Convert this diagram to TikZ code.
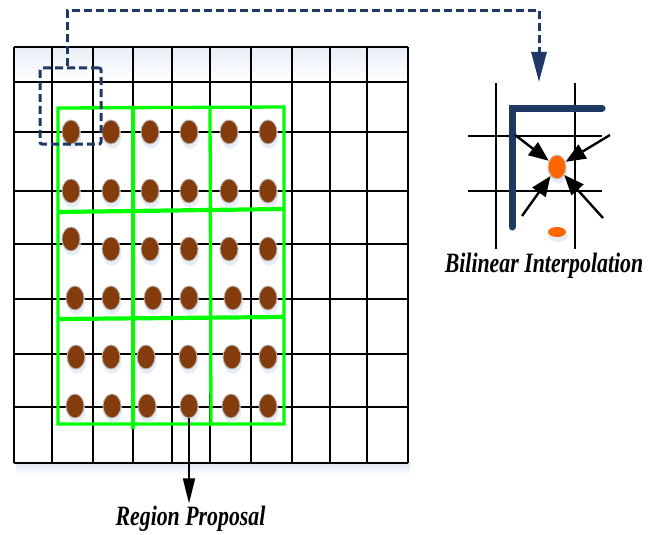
\documentclass[tikz,border=0pt]{standalone}
\usepackage{fontspec}
\setmainfont{Liberation Serif}
\usetikzlibrary{arrows.meta,shapes.geometric,shadows}

\definecolor{navy}{HTML}{1F3864}
\definecolor{dotbrown}{HTML}{843C0C}
\definecolor{roigreen}{HTML}{00FF00}
\definecolor{hotorange}{HTML}{FF6600}
\definecolor{haze}{HTML}{D6E1EF}

\tikzset{
  gridline/.style={line width=2.3pt, black},
  roiline/.style={line width=3.3pt, roigreen},
  roimid/.style={line width=4.2pt, roigreen},
  sample/.style={ellipse, draw=gray!55, line width=0.9pt, fill=dotbrown,
    minimum width=18pt, minimum height=24pt, inner sep=0pt,
    general shadow={fill=haze, opacity=0.6, shadow xshift=1pt, shadow yshift=-4pt, shadow scale=1.05}},
  interp/.style={ellipse, draw=gray!45, line width=0.9pt, fill=hotorange,
    minimum width=18pt, minimum height=24pt, inner sep=0pt,
    general shadow={fill=haze, opacity=0.6, shadow xshift=1pt, shadow yshift=-4pt, shadow scale=1.05}},
  pullarrow/.style={line width=2.4pt, -{Triangle[length=20pt,width=16pt]}},
  linkpath/.style={navy, line width=3pt, dash pattern=on 8pt off 4pt},
  caption/.style={font=\fontsize{28}{30}\selectfont\bfseries\itshape, inner sep=2pt, anchor=base},
}

\begin{document}
\begin{tikzpicture}[x=1pt, y=-1pt]
\useasboundingbox (0,0) rectangle (656,535);

% soft haze on the feature map
\shade[top color=haze!55, bottom color=white] (14,47) rectangle (408,82);
\shade[top color=haze!80, bottom color=white] (16,463) rectangle (410,475);

% feature map grid
\foreach \x in {14,52,93,133,172,210,251,292,330,367,408}
  \draw[gridline] (\x,47) -- (\x,463);
\foreach \y in {47,82,132,191,244,299,354,407,463}
  \draw[gridline] (14,\y) -- (408,\y);

% region proposal split into 3x3 bins
\draw[roiline] (58,108) -- (284,107) -- (284,424) -- (58,424) -- cycle;
\draw[roimid] (58,212) -- (284,209);
\draw[roimid] (58,319) -- (284,317);
\draw[roiline] (133,106) -- (133,429);
\draw[roiline] (210,106) -- (211,426);

% sampling points
\foreach \x [count=\c] in {71,111,150,189,229,268}
  \node[sample] (d1\c) at (\x,132) {};
\foreach \x [count=\c] in {71,111,150,189,229,268}
  \node[sample] (d2\c) at (\x,191) {};
\node[sample] (d31) at (71,239) {};
\foreach \x [count=\c from 2] in {111,150,189,229,268}
  \node[sample] (d3\c) at (\x,249) {};
\foreach \x [count=\c] in {75,111,153,189,233,268}
  \node[sample] (d4\c) at (\x,298) {};
\foreach \x [count=\c] in {76,111,146,188,232,268}
  \node[sample] (d5\c) at (\x,357) {};
\foreach \x [count=\c] in {75,112,147,189,231,268}
  \node[sample] (d6\c) at (\x,406) {};

% highlighted cell and link to the zoomed view
\node[draw=navy, line width=3pt, dash pattern=on 8pt off 4pt, rounded corners=2pt,
      minimum width=61pt, minimum height=76pt, inner sep=0pt] (roi) at (70.5,106) {};
\coordinate (turnA) at (67,11);
\coordinate (turnB) at (539,11);
\coordinate (drop) at (539,82);
\draw[linkpath, -{Triangle[length=30pt,width=15pt]}] (turnA |- roi.north) -- (turnA) -- (turnB) -- (drop);

% zoomed view: bilinear interpolation
\draw[gridline] (496,83) -- (496,249);
\draw[gridline] (575,83) -- (575,249);
\draw[gridline] (468,136) -- (602,136);
\draw[gridline] (468,191) -- (602,191);
\draw[navy, line width=7pt, line cap=round, line join=miter] (512,227) -- (512,108) -- (602,108);

\node[interp] (od) at (557,167) {};
\node[ellipse, fill=hotorange, minimum width=18pt, minimum height=10pt, inner sep=0pt,
      general shadow={fill=haze, opacity=0.6, shadow xshift=1pt, shadow yshift=-4pt, shadow scale=1.1}] (os) at (557,232) {};

\coordinate (nw) at (515,135);
\coordinate (ne) at (610,135);
\coordinate (sw) at (522,216);
\coordinate (se) at (603,218);
\draw[pullarrow] (nw) -- (od);
\draw[pullarrow] (ne) -- (od);
\draw[pullarrow] (sw) -- (od);
\draw[pullarrow] (se) -- (od);

\node[caption] (bi) at (544,272) {\scalebox{0.78}[1]{Bilinear Interpolation}};

% region proposal label
\node[caption] (rp) at (190.5,525) {\scalebox{0.78}[1]{Region Proposal}};
\draw[line width=1.8pt, -{Triangle[length=25pt,width=12pt]}] (d64.south) -- (d64.south |- rp.north);
\end{tikzpicture}
\end{document}
